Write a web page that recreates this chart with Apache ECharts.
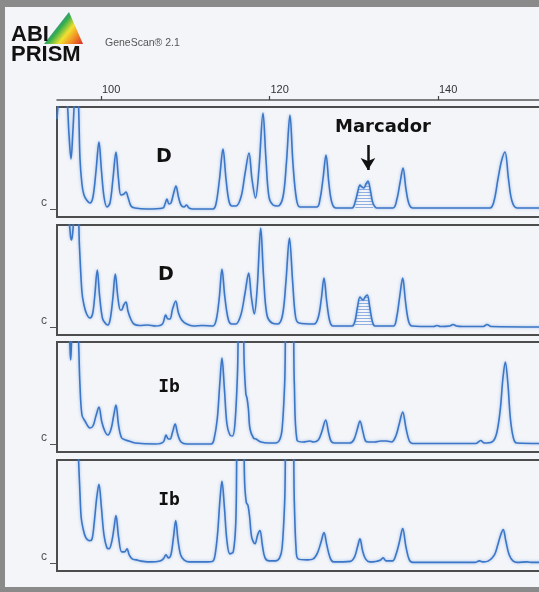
<!DOCTYPE html>
<html>
<head>
<meta charset="utf-8">
<script src="https://cdn.jsdelivr.net/npm/echarts@6/dist/echarts.min.js"></script>
<style>
  html, body { margin: 0; padding: 0; background: #f3f5f9; }
  #chart { width: 539px; height: 592px; }
</style>
</head>
<body>
<div id="chart"></div>
<script>
// Fragment size axis (bp) and lane labels
const sizeTicks = [100, 120, 140];
const sizeRange = [94.78, 152.94];
const laneLabels = ['D', 'D', 'Ib', 'Ib'];
const markerRange = [130.1, 132.55];

// Electropherogram traces: [size (bp), relative fluorescence]
const laneD1 = [
  [94.78, 90], [95.0, 110], [95.5, 130], [95.96, 110], [96.2, 75], [96.44, 50], [96.68, 80],
  [96.91, 115], [97.15, 125], [97.33, 105], [97.51, 50], [97.74, 25], [97.98, 14], [98.3, 9],
  [98.69, 6], [99.05, 12], [99.41, 38], [99.76, 67], [100.06, 38], [100.36, 12], [100.71, 2],
  [101.07, 6], [101.42, 30], [101.78, 57], [102.08, 30], [102.37, 14], [102.73, 15], [102.97, 17],
  [103.2, 12], [103.56, 3], [104.04, 1], [105.5, 0], [107.36, 1], [107.6, 5], [107.83, 10],
  [108.07, 5], [108.31, 6], [108.6, 15], [108.9, 23], [109.2, 12], [109.5, 4], [109.85, 2],
  [110.15, 4], [110.45, 1], [110.92, 0], [113.29, 0], [113.65, 5], [114.07, 30], [114.48, 60],
  [114.84, 30], [115.19, 8], [115.55, 3], [116.02, 3], [116.62, 12], [117.09, 35], [117.57, 56],
  [117.92, 30], [118.34, 11], [118.75, 40], [119.23, 96], [119.58, 50], [119.94, 12], [120.42, 4],
  [121.0, 3], [121.6, 12], [122.0, 45], [122.43, 94], [122.79, 45], [123.2, 10], [123.62, 2],
  [125.64, 2], [126.0, 10], [126.35, 30], [126.71, 54], [127.06, 25], [127.42, 6], [127.9, 1],
  [129.8, 1], [130.2, 8], [130.5, 18], [130.74, 24], [130.98, 22], [131.22, 21], [131.45, 25],
  [131.69, 28], [131.99, 18], [132.28, 6], [132.76, 1], [134.66, 1], [135.13, 10], [135.49, 26],
  [135.85, 41], [136.2, 20], [136.56, 5], [137.03, 1], [146.17, 1], [146.65, 8], [147.12, 30],
  [147.54, 48], [147.95, 57], [148.37, 30], [148.78, 8], [149.38, 1], [152.94, 1]
];

const laneD2 = [
  [94.78, 130], [95.9, 140], [96.2, 110], [96.4, 90], [96.52, 87], [96.7, 100], [96.91, 125],
  [97.2, 125], [97.45, 80], [97.74, 35], [97.98, 22], [98.3, 13], [98.69, 9], [99.0, 13],
  [99.25, 30], [99.56, 57], [99.85, 30], [100.2, 8], [100.6, 3], [100.83, 2], [101.1, 8],
  [101.4, 28], [101.7, 53], [102.0, 30], [102.3, 17], [102.46, 17], [102.7, 22], [102.97, 25],
  [103.2, 16], [103.53, 8], [103.9, 3], [104.6, 1.5], [105.5, 2], [106.5, 1], [107.3, 3],
  [107.68, 12], [107.95, 8], [108.19, 8], [108.5, 18], [108.87, 26], [109.2, 14], [109.58, 7],
  [110.17, 3], [111, 1], [112, 1.5], [113.29, 1], [113.7, 8], [114.05, 30], [114.36, 58],
  [114.7, 30], [115.1, 8], [115.51, 3], [116.0, 3], [116.6, 12], [117.1, 34], [117.53, 54],
  [117.85, 30], [118.2, 13], [118.55, 40], [118.96, 99], [119.3, 50], [119.7, 12], [120.3, 4],
  [121.0, 3], [121.55, 12], [121.95, 45], [122.37, 89], [122.75, 45], [123.1, 10], [123.5, 4],
  [125.3, 3], [125.8, 10], [126.15, 28], [126.47, 49], [126.8, 25], [127.15, 6], [127.54, 1],
  [129.8, 1], [130.15, 6], [130.45, 20], [130.74, 30], [130.95, 28], [131.13, 27], [131.35, 30],
  [131.61, 32], [131.9, 20], [132.2, 6], [132.52, 1], [134.7, 1], [135.1, 10], [135.45, 30],
  [135.81, 49], [136.15, 25], [136.5, 6], [136.91, 1], [139.5, 0.5], [139.88, 1.5], [140.3, 0.5],
  [141.4, 1], [141.78, 2.5], [142.2, 1], [142.9, 0.5], [145.4, 0.5], [145.82, 2.5], [146.3, 0.5],
  [152.94, 0]
];

const laneIb1 = [
  [94.78, 130], [95.9, 140], [96.25, 110], [96.4, 84], [96.55, 110], [96.9, 140], [97.2, 130],
  [97.35, 100], [97.5, 60], [97.74, 29], [98.1, 23], [98.69, 16], [99.05, 18], [99.4, 28],
  [99.76, 37], [100.1, 22], [100.5, 12], [100.83, 9], [101.2, 15], [101.5, 28], [101.78, 39],
  [102.1, 18], [102.46, 6], [102.9, 4], [103.3, 3], [104.04, 1], [106.5, 0], [107.4, 2],
  [107.72, 9], [108.0, 5], [108.2, 5], [108.5, 12], [108.8, 20], [109.1, 10], [109.5, 2],
  [110.2, 0], [113.1, 0], [113.4, 4], [113.8, 25], [114.1, 60], [114.36, 86], [114.65, 55],
  [114.95, 20], [115.3, 9], [115.6, 8], [115.9, 20], [116.2, 70], [116.45, 140], [116.8, 140],
  [117.0, 80], [117.2, 50], [117.33, 46], [117.5, 35], [117.69, 15], [118.1, 6], [118.4, 5],
  [119.0, 2], [119.9, 1], [120.7, 1], [121.2, 4], [121.5, 15], [121.8, 60], [122.1, 140],
  [122.7, 140], [122.95, 60], [123.26, 4], [124.0, 2], [124.8, 3], [125.2, 2], [125.8, 4],
  [126.2, 12], [126.67, 24], [127.0, 12], [127.3, 3], [127.7, 1], [129.5, 1], [130.0, 4],
  [130.4, 14], [130.74, 23], [131.1, 12], [131.4, 3], [131.8, 2], [132.5, 2], [133.2, 3],
  [133.9, 3], [134.5, 2], [135.0, 8], [135.4, 20], [135.81, 32], [136.2, 16], [136.6, 3],
  [137.03, 0.5], [144.5, 0.5], [145.07, 3.5], [145.5, 1], [145.82, 1], [146.56, 3], [147.0, 12],
  [147.4, 35], [147.7, 65], [147.99, 82], [148.3, 60], [148.6, 25], [148.95, 6], [149.34, 1],
  [152.94, 0.5]
];

const laneIb2 = [
  [94.78, 140], [96.5, 140], [97.2, 130], [97.35, 100], [97.5, 70], [97.65, 45], [97.85, 35],
  [98.2, 25], [98.69, 22], [98.95, 24], [99.2, 40], [99.5, 65], [99.76, 78], [100.05, 55],
  [100.35, 28], [100.7, 15], [100.95, 14], [101.3, 22], [101.55, 35], [101.78, 47], [102.1, 25],
  [102.46, 11], [102.8, 11], [103.09, 14], [103.35, 8], [103.7, 4], [104.2, 3], [105, 1.5],
  [106, 1], [107, 2], [107.4, 4], [107.72, 8], [108.0, 5], [108.3, 8], [108.6, 25], [108.87, 42],
  [109.15, 22], [109.45, 8], [109.85, 3], [110.5, 1], [112, 1], [113.2, 1.5], [113.5, 6],
  [113.85, 30], [114.1, 60], [114.36, 81], [114.65, 55], [114.95, 22], [115.3, 9], [115.7, 11],
  [116.0, 40], [116.3, 140], [116.85, 140], [117.05, 80], [117.25, 60], [117.45, 57], [117.65, 45],
  [117.9, 25], [118.28, 19], [118.6, 28], [118.87, 32], [119.15, 18], [119.47, 5], [120.0, 2],
  [120.7, 2], [121.2, 5], [121.5, 15], [121.8, 60], [122.1, 140], [122.7, 140], [122.95, 60],
  [123.15, 15], [123.4, 4], [124.5, 3], [125.2, 4], [125.7, 10], [126.1, 20], [126.47, 30],
  [126.8, 18], [127.2, 5], [127.6, 1], [129.6, 1.5], [130.1, 6], [130.45, 16], [130.74, 24],
  [131.05, 12], [131.4, 4], [131.9, 1], [132.6, 1.5], [133.2, 3], [133.5, 5], [133.85, 2],
  [134.6, 2], [135.0, 8], [135.4, 20], [135.81, 34], [136.2, 16], [136.6, 3], [137.03, 0.5],
  [144.4, 0.5], [144.9, 2], [145.4, 1], [146.0, 2], [146.7, 8], [147.1, 18], [147.45, 28],
  [147.74, 33], [148.05, 22], [148.45, 8], [148.9, 2], [149.4, 0.5], [150.6, 1], [151.2, 0.5],
  [152.94, 0.5]
];

const lanes = [laneD1, laneD2, laneIb1, laneIb2];

// Panel layout (pixels); panels run past the right edge of the page
const panelTops = [107, 225, 342, 460];
const panelHeights = [110, 110, 110, 111];
const traceColor = '#3c76c6';

// Horizontal-stripe fill for the marker peak
function stripePattern() {
  const c = document.createElement('canvas');
  c.width = 4; c.height = 3;
  const ctx = c.getContext('2d');
  ctx.fillStyle = 'rgba(120,158,218,0.8)';
  ctx.fillRect(0, 0, 4, 1);
  return c;
}

const chart = echarts.init(document.getElementById('chart'), null, { renderer: 'canvas' });

const grids = panelTops.map((t, i) => ({
  left: 57, width: 490, top: t, height: panelHeights[i],
  outerBoundsMode: 'none', containLabel: false,
  show: true, borderColor: '#4d4d4d', borderWidth: 2, backgroundColor: 'transparent'
}));

const xAxes = panelTops.map((t, i) => ({
  type: 'value', gridIndex: i, min: sizeRange[0], max: sizeRange[1], show: false
}));
// size scale drawn above the first panel
xAxes.push({
  type: 'value', gridIndex: 0, position: 'top', offset: 7,
  min: sizeRange[0], max: sizeRange[1],
  axisLine: { show: true, lineStyle: { color: '#555', width: 1.5 } },
  axisTick: { show: true, customValues: sizeTicks, length: 4, inside: false, lineStyle: { color: '#444', width: 1.2 } },
  axisLabel: {
    show: true, customValues: sizeTicks, align: 'left', margin: 5, padding: [0, 0, 0, 1],
    color: '#333', fontSize: 11, fontFamily: 'Liberation Sans, Arial, sans-serif'
  },
  splitLine: { show: false }
});

const yAxes = panelTops.map((t, i) => ({
  type: 'value', gridIndex: i, min: -8, max: 102,
  axisLine: { show: false },
  splitLine: { show: false },
  axisTick: { show: true, customValues: [0], length: 7, lineStyle: { color: '#555', width: 1 } },
  axisLabel: {
    show: true, customValues: [0], formatter: () => 'c', margin: 10,
    color: '#555', fontSize: 12, verticalAlign: 'bottom', fontFamily: 'Liberation Sans, Arial, sans-serif'
  }
}));

const series = [];
lanes.forEach((lane, i) => {
  if (laneLabels[i] === 'D') {
    series.push({
      type: 'line', xAxisIndex: i, yAxisIndex: i, silent: true, z: 1,
      data: lane.filter(p => p[0] >= markerRange[0] && p[0] <= markerRange[1]),
      showSymbol: false, smooth: 0.35,
      lineStyle: { width: 0 },
      areaStyle: { color: { image: stripePattern(), repeat: 'repeat' }, opacity: 1 }
    });
  }
  const s = {
    type: 'line', xAxisIndex: i, yAxisIndex: i, silent: true, z: 2,
    data: lane, showSymbol: false, smooth: 0.35, clip: true,
    lineStyle: { color: traceColor, width: 1.6, shadowBlur: 3, shadowColor: 'rgba(70,130,215,0.55)' }
  };
  if (i === 0) {
    s.markLine = {
      silent: true, symbol: ['none', 'arrow'], symbolSize: [11, 12],
      lineStyle: { color: '#111', width: 2.5, type: 'solid' },
      label: { show: false },
      data: [[{ coord: [131.69, 64] }, { coord: [131.69, 39] }]]
    };
  }
  series.push(s);
});

const labelFont = 'DejaVu Sans, Verdana, sans-serif';
const logoFont = 'bold 22px Liberation Sans, Arial, sans-serif';
const graphic = [
  // outer frame
  { type: 'rect', shape: { x: 0, y: 0, width: 539, height: 7 }, style: { fill: '#8a8a8a' } },
  { type: 'rect', shape: { x: 0, y: 0, width: 5, height: 592 }, style: { fill: '#8a8a8a' } },
  { type: 'rect', shape: { x: 0, y: 587, width: 539, height: 5 }, style: { fill: '#8a8a8a' } },
  // logo prism
  {
    type: 'polygon', shape: { points: [[69, 12], [44, 44], [83, 44]] },
    style: {
      fill: new echarts.graphic.LinearGradient(0, 0, 1, 1, [
        { offset: 0, color: '#6a3d9a' }, { offset: 0.25, color: '#3a6fd0' },
        { offset: 0.45, color: '#35b04a' }, { offset: 0.62, color: '#f2e030' },
        { offset: 0.8, color: '#f08a24' }, { offset: 1, color: '#d8282a' }
      ])
    }
  },
  { type: 'text', x: 11, y: 34.5, z: 10, style: { text: 'ABI', fill: '#111', font: logoFont, verticalAlign: 'middle' } },
  { type: 'text', x: 11, y: 55, z: 10, style: { text: 'PRISM', fill: '#111', font: logoFont, verticalAlign: 'middle' } },
  { type: 'text', x: 105, y: 43, style: { text: 'GeneScan® 2.1', fill: '#555', font: '10.5px Liberation Sans, Arial, sans-serif', verticalAlign: 'middle' } },
  // lane labels
  { type: 'text', x: 164, y: 157, style: { text: laneLabels[0], fill: '#111', font: 'bold 19px ' + labelFont, align: 'center', verticalAlign: 'middle' } },
  { type: 'text', x: 166, y: 275, style: { text: laneLabels[1], fill: '#111', font: 'bold 19px ' + labelFont, align: 'center', verticalAlign: 'middle' } },
  { type: 'text', x: 169, y: 387, style: { text: laneLabels[2], fill: '#111', font: 'bold 18px DejaVu Sans Mono, monospace', align: 'center', verticalAlign: 'middle' } },
  { type: 'text', x: 169, y: 500, style: { text: laneLabels[3], fill: '#111', font: 'bold 18px DejaVu Sans Mono, monospace', align: 'center', verticalAlign: 'middle' } },
  { type: 'text', x: 383, y: 127, style: { text: 'Marcador', fill: '#111', font: 'bold 18px ' + labelFont, align: 'center', verticalAlign: 'middle' } }
];

chart.setOption({
  animation: false,
  backgroundColor: '#f3f5f9',
  grid: grids,
  xAxis: xAxes,
  yAxis: yAxes,
  series: series,
  graphic: graphic
});
</script>
</body>
</html>
